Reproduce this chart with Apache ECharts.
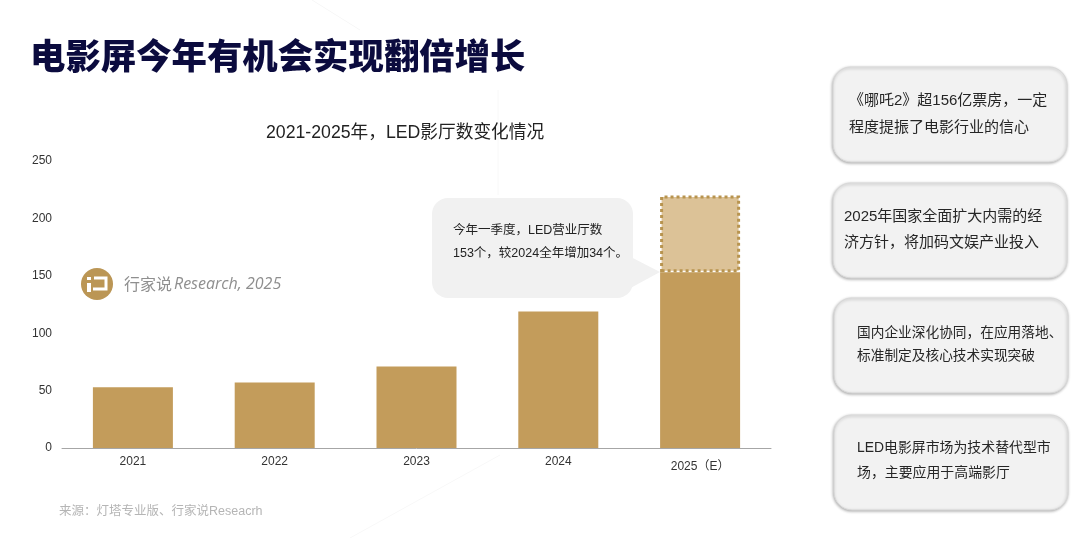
<!doctype html>
<html>
<head>
<meta charset="utf-8">
<title>LED影厅数变化情况</title>
<script src="https://cdn.jsdelivr.net/npm/echarts@6/dist/echarts.min.js"></script>
<style>
    html, body { margin: 0; padding: 0; background: #fff; }
    #main { width: 1080px; height: 538px; }
</style>
</head>
<body>
<div id="main"></div>
<script type="text/javascript">
var categories = ['2021', '2022', '2023', '2024', '2025（E）'];
var actualValues = [53, 57, 71, 119, 153];
var estimatedValues = [null, null, null, null, 67];
var yTicks = [0, 50, 100, 150, 200, 250];

var pageTitle = '电影屏今年有机会实现翻倍增长';
var chartTitle = '2021-2025年，LED影厅数变化情况';
var sourceText = '来源：灯塔专业版、行家说Reseacrh';
var calloutLines = ['今年一季度，LED营业厅数', '153个，较2024全年增加34个。'];
var cardLines = [
    ['《哪吒2》超156亿票房，一定', '程度提振了电影行业的信心'],
    ['2025年国家全面扩大内需的经', '济方针，将加码文娱产业投入'],
    ['国内企业深化协同，在应用落地、', '标准制定及核心技术实现突破'],
    ['LED电影屏市场为技术替代型市', '场，主要应用于高端影厅']
];

var CJK = '"Liberation Sans", "Noto Sans CJK SC", sans-serif';
var GOLD = '#c39c5b';

// 右侧四个卡片
var cardBoxes = [
    { x: 833, y: 67, tx: [849, 849], ty: [101, 128], size: 15 },
    { x: 833, y: 183, tx: [844, 844], ty: [217, 243], size: 15 },
    { x: 834, y: 298, tx: [857, 857], ty: [333, 356], size: 13.7 },
    { x: 834, y: 415, tx: [857, 857], ty: [448, 473], size: 13.9 }
];

var graphics = [
    // 背景上很淡的线
    { type: 'polyline', silent: true, z: 0, shape: { points: [[312, 0], [360, 30]] }, style: { stroke: '#f7f7f7', lineWidth: 1, fill: null } },
    { type: 'line', silent: true, z: 0, shape: { x1: 498, y1: 90, x2: 498, y2: 195 }, style: { stroke: '#f8f8f8', lineWidth: 1 } },
    { type: 'line', silent: true, z: 0, shape: { x1: 500, y1: 455, x2: 350, y2: 538 }, style: { stroke: '#f8f8f8', lineWidth: 1 } },

    { type: 'text', x: 30, y: 56, style: { text: pageTitle, font: '900 35.4px "Noto Sans CJK SC"', fill: '#0b0b3e', textVerticalAlign: 'middle' } },
    { type: 'text', x: 266, y: 133, style: { text: chartTitle, font: '17.7px ' + CJK, fill: '#222', textVerticalAlign: 'middle' } },
    { type: 'text', x: 59, y: 512, style: { text: sourceText, font: '12.5px ' + CJK, fill: '#b5b5b5', textVerticalAlign: 'middle' } },

    // logo
    { type: 'circle', shape: { cx: 97, cy: 284, r: 16 }, style: { fill: '#bb9655' } },
    { type: 'rect', shape: { x: 87, y: 277, width: 4, height: 3 }, style: { fill: '#fff' } },
    { type: 'rect', shape: { x: 87, y: 283, width: 4, height: 9 }, style: { fill: '#fff' } },
    { type: 'polyline', shape: { points: [[94, 278], [106, 278], [106, 289], [93, 289]] }, style: { stroke: '#fff', lineWidth: 3, fill: null } },
    { type: 'text', x: 124, y: 284, style: { text: '行家说', font: '16px "Noto Sans CJK SC"', fill: '#8f8f8f', textVerticalAlign: 'middle' } },
    { type: 'text', x: 174, y: 284, style: { text: 'Research, 2025', font: 'italic 16px "Open Sans"', fill: '#8f8f8f', textVerticalAlign: 'middle' } },

    // 气泡
    { type: 'polygon', z: 3, shape: { points: [[625, 254], [660, 272], [625, 291]] }, style: { fill: '#f1f1f1' } },
    { type: 'rect', z: 3, shape: { x: 432, y: 198, width: 201, height: 100, r: 16 }, style: { fill: '#f1f1f1' } },
    { type: 'text', z: 4, x: 453, y: 231, style: { text: calloutLines[0], font: '12.5px ' + CJK, fill: '#222', textVerticalAlign: 'middle' } },
    { type: 'text', z: 4, x: 453, y: 254, style: { text: calloutLines[1], font: '12.5px ' + CJK, fill: '#222', textVerticalAlign: 'middle' } }
];

cardBoxes.forEach(function (box, i) {
    graphics.push({
        type: 'rect', z: 3,
        shape: { x: box.x, y: box.y, width: 234, height: 95, r: 18 },
        style: { fill: '#f2f2f2', stroke: '#d8d8d8', lineWidth: 1, shadowBlur: 3, shadowColor: 'rgba(0,0,0,0.3)', shadowOffsetX: -0.5, shadowOffsetY: 1 }
    });
    cardLines[i].forEach(function (line, j) {
        graphics.push({
            type: 'text', z: 4, x: box.tx[j], y: box.ty[j],
            style: { text: line, font: box.size + 'px ' + CJK, fill: '#262626', textVerticalAlign: 'middle' }
        });
    });
});

var myChart = echarts.init(document.getElementById('main'), null, { renderer: 'canvas' });
var option = {
    animation: false,
    backgroundColor: '#fff',
    grid: { left: 62, top: 161, width: 709, height: 287, containLabel: false },
    xAxis: {
        type: 'category',
        data: categories,
        axisTick: { show: false },
        axisLine: { lineStyle: { color: '#a6a6a6', width: 1 } },
        axisLabel: {
            margin: 8,
            color: '#333',
            fontSize: 12,
            fontFamily: CJK,
            formatter: function (v) {
                return v === categories[4] ? '{e|' + v + '}' : v;
            },
            rich: { e: { fontSize: 12, color: '#333', fontFamily: CJK, padding: [5, 0, 0, 0] } }
        }
    },
    yAxis: {
        type: 'value',
        min: yTicks[0],
        max: yTicks[yTicks.length - 1],
        interval: yTicks[1] - yTicks[0],
        axisLine: { show: false },
        axisTick: { show: false },
        splitLine: { show: false },
        axisLabel: { margin: 10, color: '#333', fontSize: 12, fontFamily: CJK, padding: [2, 0, 0, 0] }
    },
    series: [
        {
            type: 'bar', stack: 'led', barWidth: 80,
            data: actualValues,
            itemStyle: { color: GOLD }
        },
        {
            type: 'bar', stack: 'led', barWidth: 80,
            data: estimatedValues,
            itemStyle: { color: '#dcc297', borderColor: '#b8944f', borderWidth: 3, borderType: [3, 3] }
        }
    ],
    graphic: graphics
};
myChart.setOption(option);
</script>
</body>
</html>
